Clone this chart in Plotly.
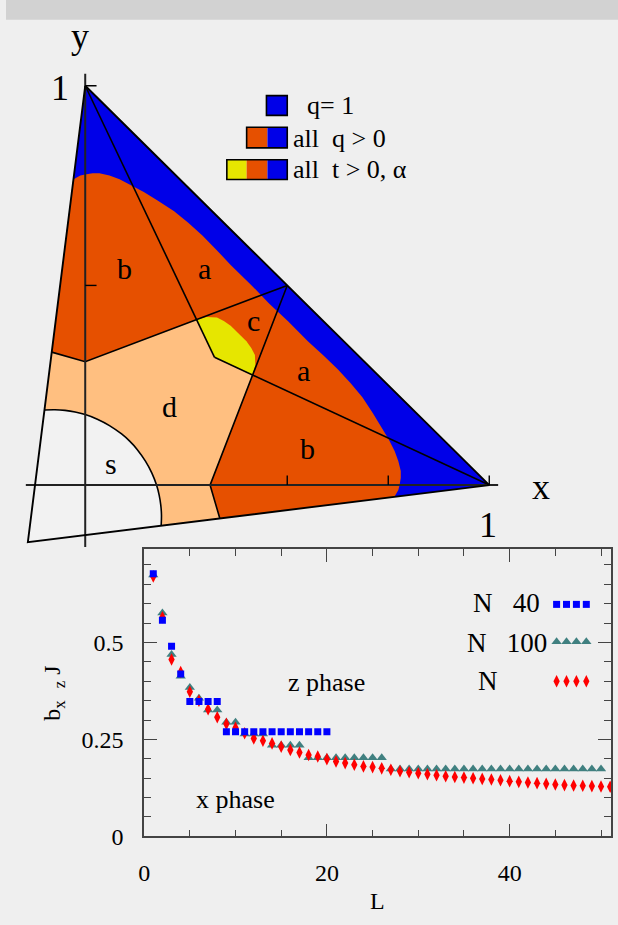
import plotly.graph_objects as go

W, H = 618, 925

# ---------------- lower panel: b_x / zJ against L
L_40 = list(range(1, 21))
b_40 = [0.677, 0.557, 0.490, 0.419, 0.348, 0.348, 0.348, 0.348, 0.270, 0.270,
        0.270, 0.270, 0.270, 0.270, 0.270, 0.270, 0.270, 0.270, 0.270, 0.270]

L_100 = list(range(1, 51))
b_100 = [0.674, 0.576, 0.469, 0.413, 0.384, 0.356, 0.326, 0.326, 0.294, 0.294,
         0.264, 0.264, 0.264, 0.235, 0.235, 0.235, 0.235, 0.203, 0.203, 0.203,
         0.203, 0.203, 0.203, 0.203, 0.203, 0.203, 0.174, 0.174, 0.174, 0.174,
         0.174, 0.174, 0.174, 0.174, 0.174, 0.174, 0.174, 0.174, 0.174, 0.174,
         0.174, 0.174, 0.174, 0.174, 0.174, 0.174, 0.174, 0.174, 0.174, 0.174]

L_inf = list(range(1, 52))
b_inf = [0.670, 0.565, 0.456, 0.424, 0.373, 0.350, 0.328, 0.307, 0.290, 0.280,
         0.266, 0.2525, 0.2466, 0.2398, 0.2314, 0.2227, 0.2161, 0.2100, 0.2059, 0.1991,
         0.1932, 0.1889, 0.1846, 0.1805, 0.1787, 0.1754, 0.1719, 0.1678, 0.1653, 0.1627,
         0.1602, 0.1576, 0.1551, 0.1533, 0.1515, 0.1500, 0.1482, 0.1465, 0.1449, 0.1424,
         0.1406, 0.1388, 0.1373, 0.1355, 0.1337, 0.1322, 0.1312, 0.1304, 0.1297, 0.1287,
         0.1279]

# ---------------- upper panel: phase diagram in the (x, y) plane
tri_x = [0, 1, -0.142, 0]
tri_y = [1, 0, -0.143, 1]

# boundary of the "all q > 0" region
q_x = [-0.030, -0.012, 0.0, 0.018, 0.035, 0.06, 0.085, 0.115, 0.145, 0.18, 0.22,
       0.255, 0.29, 0.325, 0.36, 0.41, 0.455, 0.502, 0.551, 0.589, 0.625, 0.657,
       0.686, 0.712, 0.734, 0.751, 0.766, 0.775, 0.781, 0.781, 0.778, 0.775, 0.765,
       -0.142]
q_y = [0.765, 0.775, 0.778, 0.781, 0.781, 0.775, 0.766, 0.751, 0.734, 0.712, 0.686,
       0.657, 0.625, 0.589, 0.551, 0.502, 0.455, 0.41, 0.36, 0.325, 0.29, 0.255,
       0.22, 0.18, 0.145, 0.115, 0.085, 0.06, 0.035, 0.018, 0.0, -0.012, -0.030,
       -0.143]

# region d
d_x = [-0.083, 0.0, 0.276, 0.32, 0.414, 0.309, 0.333, -0.142]
d_y = [0.333, 0.309, 0.414, 0.32, 0.276, 0.0, -0.083, -0.143]

# region c (yellow)
c_x = [0.276, 0.30, 0.326, 0.343, 0.36, 0.379, 0.399, 0.411, 0.420, 0.421, 0.414, 0.32]
c_y = [0.414, 0.421, 0.420, 0.411, 0.399, 0.379, 0.36, 0.343, 0.326, 0.30, 0.276, 0.32]

# region s
s_x = [-0.101, -0.075, -0.05, -0.025, 0.0, 0.03, 0.06, 0.09, 0.11,
       0.128, 0.149, 0.165, 0.1765, 0.183, 0.187, 0.1887, 0.188]
s_y = [0.188, 0.1887, 0.187, 0.183, 0.1765, 0.165, 0.149, 0.128, 0.11,
       0.09, 0.06, 0.03, 0.0, -0.025, -0.05, -0.075, -0.101]

# black dividing lines
div_lines = [
    ([0, 0.32], [1, 0.32]),
    ([1, 0.32], [0, 0.32]),
    ([0.5, 0.0, -0.083], [0.5, 0.309, 0.333]),
    ([0.5, 0.309, 0.333], [0.5, 0.0, -0.083]),
]

region_labels = ['b', 'a', 'c', 'a', 'd', 'b', 's']
region_x = [0.098, 0.294, 0.417, 0.539, 0.208, 0.551, 0.064]
region_y = [0.543, 0.543, 0.412, 0.286, 0.198, 0.091, 0.054]

BLUE = '#0000e8'
ORANGE = '#e65000'
LIGHT = '#ffbf80'
YELLOW = '#e6e600'
BG = '#efefef'
SERIF = 'Liberation Serif'

fig = go.Figure()

# grey strip along the top of the page
fig.add_trace(go.Scatter(x=[0, W, W, 0, 0], y=[0, 0, 20, 20, 0], mode='lines', fill='toself',
                         fillcolor='#d2d2d2', line=dict(width=0, color='#d2d2d2'),
                         xaxis='x3', yaxis='y3', hoverinfo='skip', showlegend=False))

# ---------------------------------------------- upper diagram
def area(xs, ys, color):
    fig.add_trace(go.Scatter(x=xs, y=ys, mode='lines', fill='toself', fillcolor=color,
                             line=dict(width=0, color=color), xaxis='x2', yaxis='y2',
                             hoverinfo='skip', showlegend=False))

def black(xs, ys, width=1.6, shape='linear', color='black'):
    fig.add_trace(go.Scatter(x=xs, y=ys, mode='lines', line=dict(color=color, width=width, shape=shape),
                             xaxis='x2', yaxis='y2', hoverinfo='skip', showlegend=False))

area(tri_x, tri_y, BLUE)
area(q_x, q_y, ORANGE)
area(d_x, d_y, LIGHT)
area(c_x, c_y, YELLOW)
area(s_x + [-0.142], s_y + [-0.143], '#f2f2f2')

for lx, ly in div_lines:
    black(lx, ly)
black(s_x, s_y, shape='spline')

# axes of the diagram
black([0, 0], [-0.155, 1.03], width=2, color='#222')
black([-0.147, 1.022], [0, 0], width=2, color='#222')
for ty in [0.5, 1.0]:
    black([0, 0.028], [ty, ty], width=1.4)
for tx in [0.5, 0.75, 1.0]:
    black([tx, tx], [0, 0.024], width=1.4)
black(tri_x, tri_y, width=1.9)

for t, xx, yy in zip(region_labels, region_x, region_y):
    fig.add_annotation(x=xx, y=yy, xref='x2', yref='y2', text=t, showarrow=False,
                       font=dict(family=SERIF, size=30, color='black'))

for t, xx, yy in [('y', -0.012, 1.125), ('1', -0.062, 0.995), ('x', 1.127, -0.005), ('1', 0.998, -0.1)]:
    fig.add_annotation(x=xx, y=yy, xref='x2', yref='y2', text=t, showarrow=False,
                       font=dict(family=SERIF, size=36, color='black'))

# legend of the diagram (pixel coordinates on an overlay axis)
boxes = [
    [(263, 284, BLUE)],
    [(243, 264, ORANGE), (264, 284, BLUE)],
    [(223, 243, YELLOW), (243, 264, ORANGE), (264, 284, BLUE)],
]
rows_y = [(97, 117), (129, 150), (162, 182)]
for parts, (y0, y1) in zip(boxes, rows_y):
    for x0, x1, col in parts:
        fig.add_shape(type='rect', xref='x3', yref='y3', x0=x0, x1=x1, y0=y0, y1=y1,
                      fillcolor=col, line=dict(width=0))
    fig.add_shape(type='rect', xref='x3', yref='y3', x0=parts[0][0], x1=284, y0=y0, y1=y1,
                  fillcolor='rgba(0,0,0,0)', line=dict(width=1.6, color='black'))

leg_text = ['q= 1', 'all\u00a0\u00a0q > 0', 'all\u00a0\u00a0t > 0, \u03b1']
leg_x = [302, 288, 288]
leg_y = [107, 140, 172]
for t, xx, yy in zip(leg_text, leg_x, leg_y):
    fig.add_annotation(x=xx, y=yy, xref='x3', yref='y3', text=t, showarrow=False, xanchor='left',
                       font=dict(family=SERIF, size=26, color='black'))

# ---------------------------------------------- lower plot
fig.add_trace(go.Scatter(x=L_100, y=b_100, mode='markers', showlegend=False,
                         marker=dict(symbol='triangle-up', size=9, color='#408080')))
fig.add_trace(go.Scatter(x=L_inf, y=b_inf, mode='markers', showlegend=False,
                         marker=dict(symbol='diamond-tall', size=9, color='#ff0000')))
fig.add_trace(go.Scatter(x=L_40, y=b_40, mode='markers', showlegend=False,
                         marker=dict(symbol='square', size=7, color='#0000ff')))

# legend samples, drawn on the pixel overlay
samp_x = [556, 566, 576, 586]
for yy, sym, col, sz in [(613, 'square', '#0000ff', 7), (651, 'triangle-up', '#408080', 9),
                         (691, 'diamond-tall', '#ff0000', 9)]:
    fig.add_trace(go.Scatter(x=samp_x, y=[yy] * 4, mode='markers', xaxis='x3', yaxis='y3',
                             showlegend=False, hoverinfo='skip',
                             marker=dict(symbol=sym, size=sz, color=col)))

for t, xx, yy in [('N\u00a0\u00a0\u00a040', 541, 612), ('N\u00a0\u00a0\u00a0100', 548, 652), ('N', 499, 691)]:
    fig.add_annotation(x=xx, y=yy, xref='x3', yref='y3', text=t, showarrow=False, xanchor='right',
                       font=dict(family=SERIF, size=27, color='black'))

for t, xx, yy in [('z phase', 324, 692), ('x phase', 232, 811)]:
    fig.add_annotation(x=xx, y=yy, xref='x3', yref='y3', text=t, showarrow=False,
                       font=dict(family=SERIF, size=26, color='black'))

fig.add_annotation(x=375, y=914, xref='x3', yref='y3', text='L', showarrow=False,
                   font=dict(family=SERIF, size=24, color='black'))
fig.add_annotation(x=49, y=703, xref='x3', yref='y3', text='b<sub>x</sub>\u00a0\u00a0<sub>z</sub> J',
                   showarrow=False, textangle=-90, font=dict(family=SERIF, size=24, color='black'))

axis_common = dict(ticks='inside', ticklen=13, tickwidth=1.4, tickcolor='#444', showline=True,
                   linecolor='#444', linewidth=1.6, mirror='ticks', showgrid=False, zeroline=False,
                   tickfont=dict(family=SERIF, size=24, color='black'), fixedrange=True)

fig.update_layout(
    width=W, height=H,
    margin=dict(l=0, r=0, t=0, b=0),
    paper_bgcolor=BG, plot_bgcolor='rgba(0,0,0,0)',
    xaxis=dict(domain=[139.5 / W, 611 / W], range=[0, 51.1], anchor='y',
               tickvals=[0, 20, 40], ticklabelstandoff=14,
               minor=dict(ticks='inside', ticklen=7, tickwidth=1.2, tickcolor='#444', dtick=5, tick0=0),
               **axis_common),
    yaxis=dict(domain=[1 - 848.3 / H, 1 - 557 / H], range=[0, 0.7406], anchor='x',
               tickvals=[0, 0.25, 0.5], ticktext=['0', '0.25', '0.5'], ticklabelstandoff=14,
               minor=dict(ticks='inside', ticklen=7, tickwidth=1.2, tickcolor='#444', dtick=0.05, tick0=0),
               **axis_common),
    xaxis2=dict(domain=[0, 1], range=[-80 / 408, 538 / 408], anchor='y2', visible=False, fixedrange=True),
    yaxis2=dict(domain=[1 - 556 / H, 1 - 20 / H], range=[(492 - 556) / 405, (492 - 20) / 405],
                anchor='x2', visible=False, fixedrange=True),
    xaxis3=dict(domain=[0, 1], range=[0, W], anchor='y3', visible=False, fixedrange=True),
    yaxis3=dict(domain=[0, 1], range=[H, 0], anchor='x3', visible=False, fixedrange=True),
)

page_css = (
    "var g=document.getElementById('{plot_id}');"
    "document.documentElement.style.margin='0';document.documentElement.style.overflow='hidden';"
    "document.body.style.margin='0';document.body.style.padding='0';"
    "document.body.style.overflow='hidden';"
    "g.parentElement.style.height='925px';g.parentElement.style.overflow='hidden';"
)
fig.write_html('out.html', config={'displayModeBar': False}, post_script=page_css)
